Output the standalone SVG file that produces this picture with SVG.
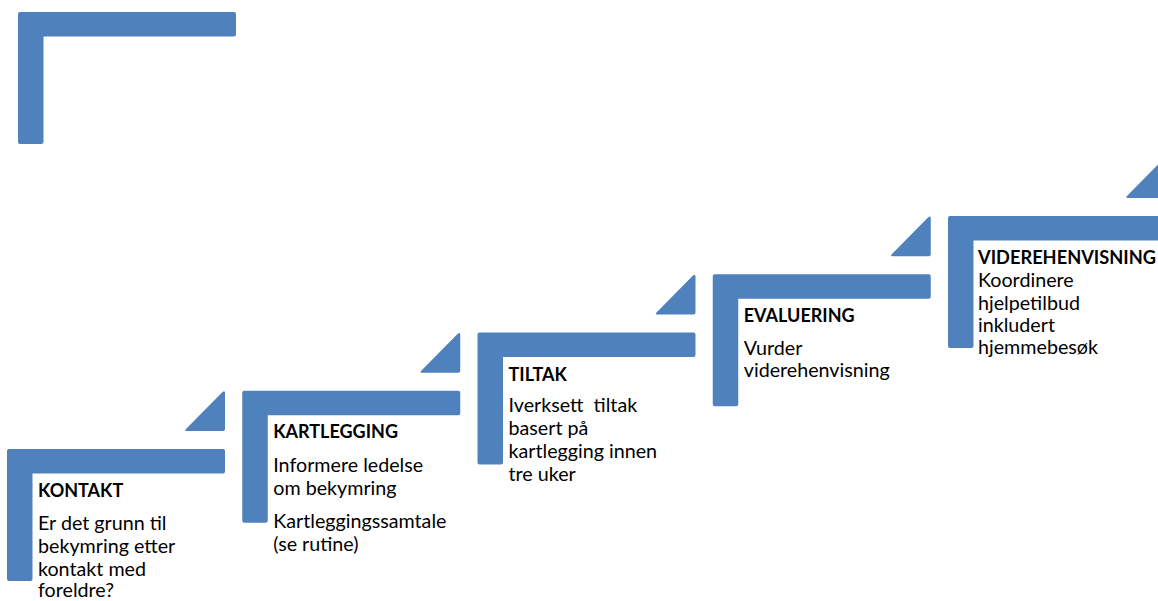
<svg xmlns="http://www.w3.org/2000/svg" width="1158" height="601" viewBox="0 0 1158 601">
<style>
  .shape { fill: #4F81BD; }
  .title { font-family: Lato, "Liberation Sans", sans-serif; font-weight: bold; font-size: 18px; fill: #000; }
  .body { font-family: Lato, "Liberation Sans", sans-serif; font-size: 19.7px; fill: #000; }
</style>
<defs>
  <path id="corner" d="M2,0 H216 Q218,0 218,2 V22.5 Q218,24.5 216,24.5 H25.5 V130 Q25.5,132 23.5,132 H2 Q0,132 0,130 V2 Q0,0 2,0 Z"/>
  <path id="tri" d="M216,-18 H180 Q177,-18 179,-20 L215.5,-57 Q218,-59 218,-56 V-20 Q218,-18 216,-18 Z"/>
</defs>
<rect width="1158" height="601" fill="#fff"/>
<g id="stray-corner">
  <use href="#corner" class="shape" transform="translate(18,12)"/>
</g>
<g id="connectors"></g>
<g id="step-kontakt" transform="translate(7,449)">
  <use href="#corner" class="shape"/>
  <use href="#tri" class="shape"/>
  <text class="title" x="31" y="48">KONTAKT</text>
  <text class="body" x="31" y="81">Er det grunn til</text>
  <text class="body" x="31" y="104">bekymring etter</text>
  <text class="body" x="31" y="127">kontakt med</text>
  <text class="body" x="31" y="148">foreldre?</text>
</g>
<g id="step-kartlegging" transform="translate(242.25,390.75)">
  <use href="#corner" class="shape"/>
  <use href="#tri" class="shape"/>
  <text class="title" x="31" y="47">KARTLEGGING</text>
  <text class="body" x="31" y="81">Informere ledelse</text>
  <text class="body" x="31" y="104">om bekymring</text>
  <text class="body" x="31" y="137">Kartleggingssamtale</text>
  <text class="body" x="31" y="160">(se rutine)</text>
</g>
<g id="step-tiltak" transform="translate(477.5,332.5)">
  <use href="#corner" class="shape"/>
  <use href="#tri" class="shape"/>
  <text class="title" x="31" y="48">TILTAK</text>
  <text class="body" x="31" y="79" xml:space="preserve">Iverksett  tiltak</text>
  <text class="body" x="31" y="102">basert på</text>
  <text class="body" x="31" y="125">kartlegging innen</text>
  <text class="body" x="31" y="148">tre uker</text>
</g>
<g id="step-evaluering" transform="translate(712.75,274.25)">
  <use href="#corner" class="shape"/>
  <use href="#tri" class="shape"/>
  <text class="title" x="31" y="48">EVALUERING</text>
  <text class="body" x="31" y="81">Vurder</text>
  <text class="body" x="31" y="103">viderehenvisning</text>
</g>
<g id="step-viderehenvisning" transform="translate(948,216)">
  <use href="#corner" class="shape"/>
  <use href="#tri" class="shape"/>
  <text class="title" x="30" y="48" textLength="178" lengthAdjust="spacingAndGlyphs">VIDEREHENVISNING</text>
  <text class="body" x="30" y="71">Koordinere</text>
  <text class="body" x="30" y="94">hjelpetilbud</text>
  <text class="body" x="30" y="116">inkludert</text>
  <text class="body" x="30" y="138">hjemmebesøk</text>
</g>
</svg>
